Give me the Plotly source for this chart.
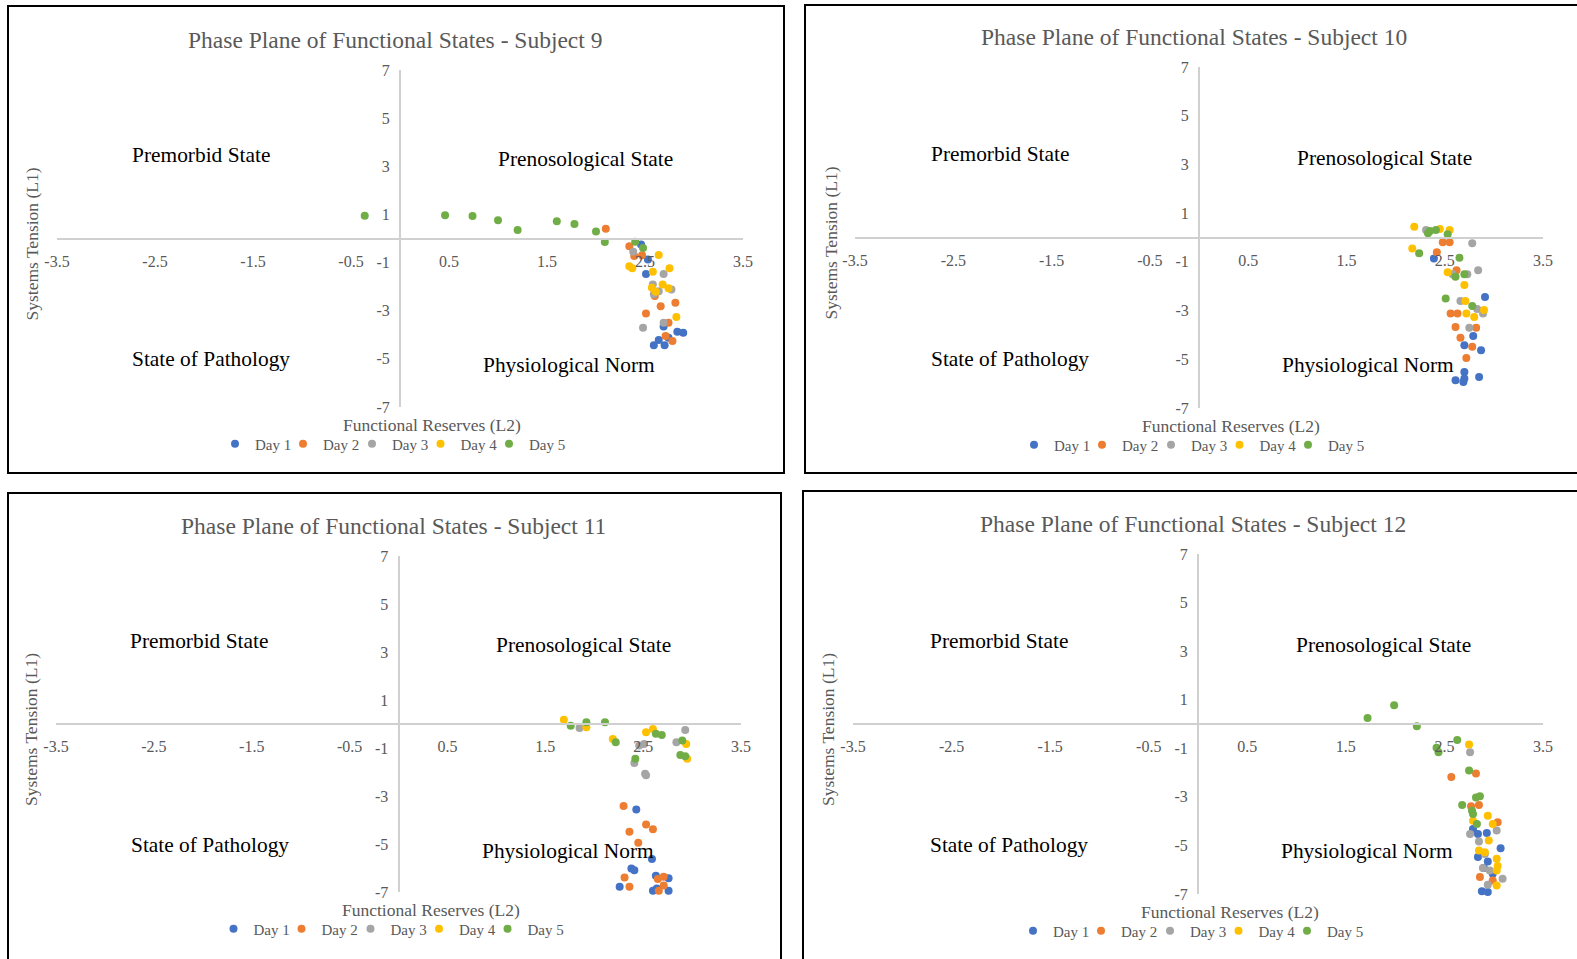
import plotly.graph_objects as go

W, H = 1577, 959
FONT = "Liberation Serif, Times New Roman, serif"
DAY_NAMES = ["Day 1", "Day 2", "Day 3", "Day 4", "Day 5"]
DAY_COLORS = ["#4472C4", "#ED7D31", "#A5A5A5", "#FFC000", "#70AD47"]
X_TICKS = [-3.5, -2.5, -1.5, -0.5, 0.5, 1.5, 2.5, 3.5]
Y_TICKS = [7, 5, 3, 1, -1, -3, -5, -7]
SUBJECTS = ["Subject 9", "Subject 10", "Subject 11", "Subject 12"]

# ---- Subject 9 (x = Functional Reserves L2, y = Systems Tension L1)
S9_D1_X = [2.46, 2.53, 2.51, 2.69, 2.83, 2.89, 2.64, 2.59, 2.70, 2.74]
S9_D1_Y = [-0.25, -0.87, -1.47, -3.66, -3.87, -3.92, -4.22, -4.43, -4.43, -4.12]
S9_D2_X = [2.10, 2.34, 2.39, 2.47, 2.60, 2.66, 2.81, 2.51, 2.74, 2.71, 2.78]
S9_D2_Y = [0.41, -0.32, -0.73, -0.70, -2.39, -2.81, -2.67, -3.12, -3.50, -4.05, -4.26]
S9_D3_X = [2.38, 2.69, 2.58, 2.64, 2.77, 2.59, 2.69, 2.48]
S9_D3_Y = [-0.55, -1.47, -1.91, -2.19, -2.12, -2.32, -3.50, -3.71]
S9_D4_X = [2.34, 2.37, 2.64, 2.75, 2.58, 2.68, 2.74, 2.57, 2.61, 2.82]
S9_D4_Y = [-1.15, -1.24, -0.69, -1.24, -1.38, -1.91, -2.07, -2.05, -2.21, -3.26]
S9_D5_X = [-0.36, 0.46, 0.74, 1.00, 1.20, 1.60, 1.78, 2.00, 2.09, 2.40, 2.48]
S9_D5_Y = [0.95, 0.97, 0.93, 0.76, 0.35, 0.72, 0.60, 0.29, -0.15, -0.14, -0.39]

# ---- Subject 10
S10_D1_X = [2.39, 2.91, 2.79, 2.70, 2.87, 2.70, 2.85, 2.61, 2.69, 2.70]
S10_D1_Y = [-0.86, -2.44, -4.04, -4.42, -4.63, -5.52, -5.73, -5.86, -5.93, -5.79]
S10_D2_X = [2.48, 2.55, 2.42, 2.62, 2.56, 2.63, 2.61, 2.82, 2.66, 2.78, 2.72]
S10_D2_Y = [-0.20, -0.20, -0.61, -1.34, -3.12, -3.12, -3.67, -3.71, -4.12, -4.49, -4.95]
S10_D3_X = [2.31, 2.78, 2.84, 2.73, 2.58, 2.66, 2.83, 2.89, 2.75]
S10_D3_Y = [0.31, -0.24, -1.34, -1.51, -1.51, -2.61, -2.94, -3.12, -3.71]
S10_D4_X = [2.19, 2.55, 2.45, 2.17, 2.53, 2.70, 2.71, 2.72, 2.80, 2.90]
S10_D4_Y = [0.44, 0.31, 0.35, -0.45, -1.43, -1.95, -2.61, -3.12, -3.26, -2.98]
S10_D5_X = [2.35, 2.41, 2.53, 2.33, 2.24, 2.65, 2.61, 2.70, 2.51, 2.78]
S10_D5_Y = [0.27, 0.31, 0.13, 0.17, -0.65, -0.83, -1.61, -1.51, -2.50, -2.81]

# ---- Subject 11
S11_D1_X = [2.43, 2.59, 2.38, 2.41, 2.26, 2.63, 2.76, 2.64, 2.60, 2.76]
S11_D1_Y = [-3.56, -5.63, -6.02, -6.09, -6.78, -6.32, -6.43, -6.85, -6.95, -6.95]
S11_D2_X = [2.30, 2.53, 2.60, 2.36, 2.45, 2.31, 2.36, 2.65, 2.71, 2.71, 2.66]
S11_D2_Y = [-3.42, -4.19, -4.39, -4.49, -4.95, -6.40, -6.78, -6.46, -6.36, -6.73, -6.95]
S11_D3_X = [1.85, 2.93, 2.84, 2.46, 2.51, 2.41, 2.52, 2.53]
S11_D3_Y = [-0.17, -0.25, -0.76, -0.90, -0.83, -1.63, -2.07, -2.14]
S11_D4_X = [1.69, 1.92, 2.19, 2.53, 2.60, 2.94, 2.95]
S11_D4_Y = [0.18, -0.14, -0.62, -0.34, -0.21, -0.83, -1.45]
S11_D5_X = [1.76, 1.92, 2.11, 2.22, 2.63, 2.69, 2.90, 2.88, 2.93, 2.42]
S11_D5_Y = [-0.07, 0.07, 0.07, -0.76, -0.41, -0.46, -0.69, -1.29, -1.34, -1.45]

# ---- Subject 12
S12_D1_X = [2.79, 2.84, 2.93, 3.07, 2.84, 2.94, 2.90, 2.99, 2.88, 2.94]
S12_D1_Y = [-4.32, -4.53, -4.49, -5.12, -5.48, -5.66, -5.93, -6.17, -6.89, -6.92]
S12_D2_X = [2.57, 2.82, 2.77, 2.85, 3.04, 2.86, 2.99]
S12_D2_Y = [-2.18, -2.04, -3.39, -3.34, -4.05, -6.30, -6.44]
S12_D3_X = [2.76, 3.03, 2.76, 2.85, 2.91, 2.89, 2.96, 3.09, 2.94]
S12_D3_Y = [-1.16, -4.39, -4.53, -4.84, -5.35, -5.93, -6.03, -6.37, -6.62]
S12_D4_X = [2.75, 2.94, 2.79, 2.99, 2.95, 2.85, 2.91, 3.03, 3.04, 3.03, 3.03]
S12_D4_Y = [-0.84, -3.78, -3.98, -4.12, -4.80, -5.21, -5.28, -5.55, -5.85, -6.03, -6.65]
S12_D5_X = [1.72, 1.99, 2.22, 2.42, 2.44, 2.63, 2.75, 2.82, 2.86, 2.68, 2.78, 2.79, 2.83]
S12_D5_Y = [0.25, 0.77, -0.09, -0.98, -1.16, -0.66, -1.91, -3.03, -2.98, -3.34, -3.57, -3.71, -4.12]

DATA = [
    [(S9_D1_X, S9_D1_Y), (S9_D2_X, S9_D2_Y), (S9_D3_X, S9_D3_Y), (S9_D4_X, S9_D4_Y), (S9_D5_X, S9_D5_Y)],
    [(S10_D1_X, S10_D1_Y), (S10_D2_X, S10_D2_Y), (S10_D3_X, S10_D3_Y), (S10_D4_X, S10_D4_Y), (S10_D5_X, S10_D5_Y)],
    [(S11_D1_X, S11_D1_Y), (S11_D2_X, S11_D2_Y), (S11_D3_X, S11_D3_Y), (S11_D4_X, S11_D4_Y), (S11_D5_X, S11_D5_Y)],
    [(S12_D1_X, S12_D1_Y), (S12_D2_X, S12_D2_Y), (S12_D3_X, S12_D3_Y), (S12_D4_X, S12_D4_Y), (S12_D5_X, S12_D5_Y)],
]

# layout geometry in pixels: plot area (L, R, T, B) and outer box (L, R, T, B)
PLOT_AREAS = [(57, 743, 70, 407), (855, 1543, 67, 408), (56, 741, 556, 892), (853, 1543, 554, 894)]
BOXES = [(8, 784, 6, 473), (805, 1590, 5, 473), (8, 781, 493, 975), (803, 1590, 491, 975)]
LEGEND_DOT_OFFSETS = [-159, -91, -22, 46.5, 115]  # legend marker centres relative to y-axis


def px(x):
    return x / W


def py(y):
    return 1 - y / H


fig = go.Figure()
layout = dict(
    width=W, height=H, margin=dict(l=0, r=0, t=0, b=0, autoexpand=False),
    paper_bgcolor="white", plot_bgcolor="rgba(0,0,0,0)",
    font=dict(family=FONT, color="#595959"),
    showlegend=True,
    annotations=[], shapes=[],
)

GREY = "#595959"
AXIS_GREY = "#D0D0D0"
leg_count = 0
for i, (L, R, T, B) in enumerate(PLOT_AREAS):
    n = "" if i == 0 else str(i + 1)
    cx = (L + R) / 2
    cy = (T + B) / 2
    for d in range(5):
        leg_count += 1
        legname = "legend" if leg_count == 1 else "legend" + str(leg_count)
        xs, ys = DATA[i][d]
        fig.add_trace(go.Scatter(
            x=xs, y=ys, mode="markers", name=DAY_NAMES[d], showlegend=True,
            marker=dict(color=DAY_COLORS[d], size=8),
            xaxis="x" + n, yaxis="y" + n, legend=legname, cliponaxis=False,
        ))
        layout[legname] = dict(
            orientation="h", x=px(cx + LEGEND_DOT_OFFSETS[d] - 6 - 20), y=py(B + 37),
            xanchor="left", yanchor="middle",
            font=dict(family=FONT, size=15, color=GREY), bgcolor="rgba(0,0,0,0)",
            itemwidth=30,
        )
    layout["xaxis" + n] = dict(
        domain=[px(L), px(R)], range=[-3.5, 3.5], anchor="free", position=py(cy),
        tickvals=X_TICKS, ticktext=[("%g" % v) for v in X_TICKS],
        ticks="outside", ticklen=8, tickcolor="rgba(0,0,0,0)",
        showline=True, linecolor=AXIS_GREY, linewidth=2,
        showgrid=False, zeroline=False, fixedrange=True, automargin=False,
        tickfont=dict(family=FONT, size=16, color=GREY),
    )
    layout["yaxis" + n] = dict(
        domain=[py(B), py(T)], range=[-7, 7], anchor="free", position=px(cx),
        tickvals=Y_TICKS, ticktext=[("%g" % v) for v in Y_TICKS],
        ticks="outside", ticklen=6, tickcolor="rgba(0,0,0,0)",
        showline=True, linecolor=AXIS_GREY, linewidth=2,
        showgrid=False, zeroline=False, fixedrange=True, automargin=False,
        tickfont=dict(family=FONT, size=16, color=GREY),
    )
    # title
    layout["annotations"].append(dict(
        text="Phase Plane of Functional States - " + SUBJECTS[i],
        x=px(cx - 5), y=py(T - 30), xref="paper", yref="paper",
        showarrow=False, font=dict(family=FONT, size=23.5, color=GREY),
        xanchor="center", yanchor="middle"))
    # quadrant labels
    quads = [("Premorbid State", cx - 199, cy - 83), ("Prenosological State", cx + 185, cy - 79),
             ("State of Pathology", cx - 189, cy + 121), ("Physiological Norm", cx + 169, cy + 127)]
    for txt, qx, qy in quads:
        layout["annotations"].append(dict(
            text=txt, x=px(qx), y=py(qy), xref="paper", yref="paper", showarrow=False,
            font=dict(family=FONT, size=21.4, color="#000000"), xanchor="center", yanchor="middle"))
    # axis titles
    layout["annotations"].append(dict(
        text="Functional Reserves (L2)", x=px(cx + 32), y=py(B + 18), xref="paper", yref="paper",
        showarrow=False, font=dict(family=FONT, size=17.5, color=GREY), xanchor="center", yanchor="middle"))
    layout["annotations"].append(dict(
        text="Systems Tension (L1)", x=px(L - 25), y=py(cy + 6), xref="paper", yref="paper",
        showarrow=False, textangle=-90, font=dict(family=FONT, size=17.5, color=GREY),
        xanchor="center", yanchor="middle"))
    # outer box
    bL, bR, bT, bB = BOXES[i]
    layout["shapes"].append(dict(
        type="rect", xref="paper", yref="paper", x0=px(bL), x1=px(bR), y0=py(bB), y1=py(bT),
        line=dict(color="#000000", width=2), fillcolor="rgba(0,0,0,0)", layer="below"))

fig.update_layout(**layout)
fig.write_html("out.html", config={"displayModeBar": False},
               post_script="document.body.style.margin='0';document.body.style.overflow='hidden';")
